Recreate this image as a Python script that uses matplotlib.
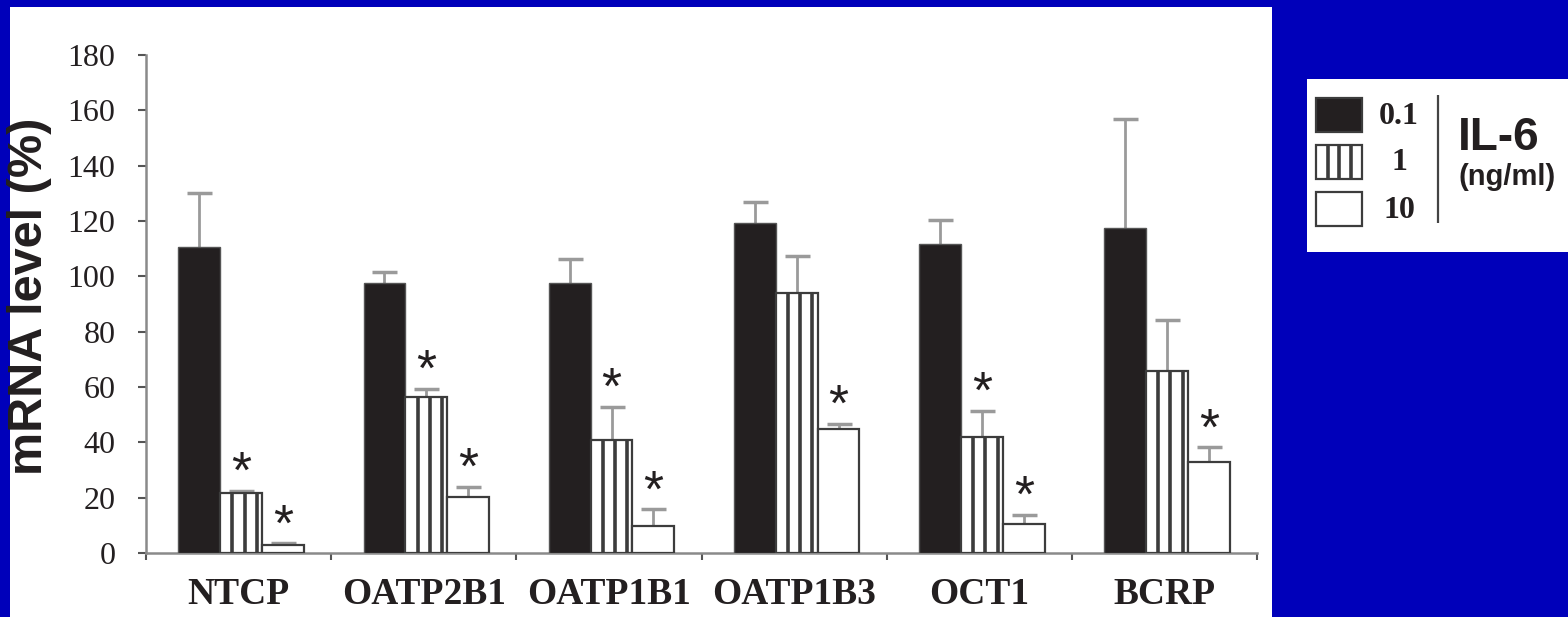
import matplotlib
matplotlib.use("Agg")
import matplotlib.pyplot as plt
from matplotlib.patches import Rectangle
import numpy as np

# ---------------- data ----------------
categories = ["NTCP", "OATP2B1", "OATP1B1", "OATP1B3", "OCT1", "BCRP"]
doses = ["0.1", "1", "10"]
vals_01 = [110.5, 97.5, 97.5, 119.2, 111.8, 117.5]
err_01 = [19.6, 4.2, 8.7, 7.6, 8.6, 39.5]
vals_1 = [21.7, 56.4, 40.9, 93.9, 42.1, 65.9]
err_1 = [0.8, 3.0, 12.0, 13.5, 9.4, 18.4]
vals_10 = [2.9, 20.1, 9.8, 44.8, 10.5, 33.0]
err_10 = [0.7, 3.9, 6.0, 2.0, 3.3, 5.2]
sig_1 = [True, True, True, False, True, False]
sig_10 = [True, True, True, True, True, True]
yticks = [0, 20, 40, 60, 80, 100, 120, 140, 160, 180]
legend_title = "IL-6"
legend_unit = "(ng/ml)"
ylabel = "mRNA level (%)"

# ---------------- style ----------------
W, H = 1568, 617
BLUE = "#0000BA"
BLACK = "#231F20"
EDGE = "#3C3C3C"
SERIF = ["Liberation Serif", "DejaVu Serif"]
SANS = ["Liberation Sans", "DejaVu Sans"]

fig = plt.figure(figsize=(W / 100, H / 100), dpi=100)
fig.patch.set_facecolor(BLUE)

def fx(px):
    return px / W

def fy(py):
    return 1 - py / H

# white panel (behind everything)
fig.patches.append(Rectangle((fx(10), 0), fx(1272) - fx(10), fy(7), transform=fig.transFigure,
                             facecolor="white", edgecolor="none", zorder=-5))

ax = fig.add_axes([fx(146), fy(553), fx(1257) - fx(146), fy(55) - fy(553)])
ax.set_facecolor("none")

x = np.arange(len(categories))
bw = 0.226
shift = 0.014
series = [(vals_01, err_01), (vals_1, err_1), (vals_10, err_10)]
faces = [BLACK, "white", "white"]
bar_groups = []
for i, ((v, e), fc) in enumerate(zip(series, faces)):
    pos = x + (i - 1) * bw + shift
    bars = ax.bar(pos, v, width=bw, color=fc, edgecolor=EDGE if i else "#555555",
                  linewidth=1.6 if i else 1.0, zorder=3)
    bar_groups.append(bars)
    eb = ax.errorbar(pos, v, yerr=[np.zeros(len(v)), e], fmt="none", ecolor="#9A9A9A",
                     elinewidth=2.0, capsize=9, capthick=2.5, zorder=2)
    caps = eb.lines[1]
    caps[0].set_visible(False)
    caps[1].set_color("#444444")

# vertical stripes inside the "1" bars
for b in bar_groups[1]:
    for frac in (0.29, 0.58, 0.875):
        ax.vlines(b.get_x() + frac * b.get_width(), 0, b.get_height(),
                  colors=EDGE, linewidth=2.6, zorder=4)

# asterisks
for bars, errs, sig in [(bar_groups[1], err_1, sig_1), (bar_groups[2], err_10, sig_10)]:
    for b, e, s in zip(bars, errs, sig):
        if s:
            ax.annotate("*", (b.get_x() + b.get_width() / 2, b.get_height() + e),
                        xytext=(0, 2), textcoords="offset points", ha="center", va="baseline",
                        fontsize=37, family=SANS, color=BLACK, zorder=5)

ax.set_xlim(-0.5, len(categories) - 0.5)
ax.set_ylim(0, 180)
ax.set_yticks(yticks)
ax.set_yticklabels([str(t) for t in yticks], family=SERIF, fontsize=23, color=BLACK)
ax.set_xticks(x)
ax.set_xticklabels(categories, family=SERIF, fontsize=27, fontweight="bold", color=BLACK)
ax.set_xticks(np.arange(len(categories) + 1) - 0.5, minor=True)
ax.tick_params(axis="x", which="major", length=0, pad=17)
ax.tick_params(axis="x", which="minor", length=5, width=1.5, color="#555555", direction="out")
ax.tick_params(axis="y", which="major", length=6, width=1.5, color="#555555", direction="out", pad=16)
for s in ("top", "right"):
    ax.spines[s].set_visible(False)
for s in ("left", "bottom"):
    ax.spines[s].set_color("#8A8A8A")
    ax.spines[s].set_linewidth(1.8)

fig.text(fx(30), fy(296), ylabel, rotation=90, ha="center", va="center",
         family=SANS, fontsize=35, fontweight="bold", color=BLACK)

# ---------------- legend box ----------------
lx0, ly0, lx1, ly1 = 1307, 79, 1568, 252
lax = fig.add_axes([fx(lx0), fy(ly1), fx(lx1) - fx(lx0), fy(ly0) - fy(ly1)])
lax.set_xlim(lx0, lx1)
lax.set_ylim(ly1, ly0)
lax.set_facecolor("white")
for s in lax.spines.values():
    s.set_visible(False)
lax.set_xticks([])
lax.set_yticks([])

sw_tops = [98, 145, 192]
sw_h = 34
for i, (lab, top) in enumerate(zip(doses, sw_tops)):
    lax.add_patch(Rectangle((1316, top), 46, sw_h, facecolor=faces[i], edgecolor=EDGE,
                            linewidth=1.6, zorder=3))
    if i == 1:
        for frac in (0.25, 0.5, 0.75):
            lax.vlines(1316 + frac * 46, top, top + sw_h, colors=EDGE, linewidth=2.6, zorder=4)
    lax.text(1399, top + sw_h / 2 + 1, lab, ha="center", va="center", family=SERIF,
             fontsize=23, fontweight="bold", color=BLACK)
lax.vlines(1438, 95, 223, colors="#444444", linewidth=1.6)
lax.text(1499, 150, legend_title, ha="center", va="baseline", family=SANS, fontsize=33,
         fontweight="bold", color=BLACK)
lax.text(1507, 185, legend_unit, ha="center", va="baseline", family=SANS, fontsize=21,
         fontweight="bold", color=BLACK)

fig.savefig("out.png", dpi=100, facecolor=fig.get_facecolor())
